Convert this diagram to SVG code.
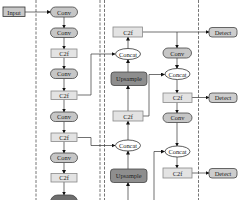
<svg xmlns="http://www.w3.org/2000/svg" width="240" height="200" viewBox="0 0 240 200">
<style>
text{font-family:"Liberation Serif","Times New Roman",serif;font-size:6.4px;fill:#222;text-anchor:middle;dominant-baseline:central}
.conv{fill:#c6c6c6;stroke:#444;stroke-width:0.8}
.c2f{fill:#e3e3e3;stroke:#888;stroke-width:0.8}
.inp{fill:#c8c8c8;stroke:#333;stroke-width:0.8}
.up{fill:#8e8e8e;stroke:#444;stroke-width:0.8}
.det{fill:#cdcdcd;stroke:#444;stroke-width:0.8}
.cat{fill:#fff;stroke:#333;stroke-width:0.8}
.sep{stroke:#777;stroke-width:1;stroke-dasharray:3 1.5;fill:none}
.ar{stroke:#333;stroke-width:0.7;fill:none;marker-end:url(#ah)}
</style>
<defs>
<marker id="ah" markerUnits="userSpaceOnUse" markerWidth="4" markerHeight="4" refX="3.5" refY="2" orient="auto">
<path d="M0,0 L4,2 L0,4 z" fill="#111"/>
</marker>
</defs>
<g id="separators">
<line class="sep" x1="36" y1="0" x2="36" y2="200"/>
<line class="sep" x1="100" y1="0" x2="100" y2="200"/>
<line class="sep" x1="104.5" y1="0" x2="104.5" y2="200"/>
<line class="sep" x1="198.5" y1="0" x2="198.5" y2="200"/>
</g>
<g id="connectors">
<line class="ar" x1="25" y1="12" x2="50.5" y2="12"/>
<line class="ar" x1="64" y1="17" x2="64" y2="28"/>
<line class="ar" x1="64" y1="37" x2="64" y2="49"/>
<line class="ar" x1="64" y1="57.5" x2="64" y2="69"/>
<line class="ar" x1="64" y1="78.5" x2="64" y2="91"/>
<line class="ar" x1="64" y1="99.5" x2="64" y2="112"/>
<line class="ar" x1="64" y1="121.5" x2="64" y2="133"/>
<line class="ar" x1="64" y1="141.5" x2="64" y2="153"/>
<line class="ar" x1="64" y1="162.5" x2="64" y2="173.5"/>
<line class="ar" x1="64" y1="182" x2="64" y2="195"/>
<path class="ar" d="M77.5,95 H91 V54 H115"/>
<path class="ar" d="M77.5,137.5 H91 V145.5 H115"/>
<line class="ar" x1="128" y1="200" x2="128" y2="182.5"/>
<line class="ar" x1="128" y1="169" x2="128" y2="151"/>
<line class="ar" x1="128" y1="140" x2="128" y2="121"/>
<line class="ar" x1="128" y1="111" x2="128" y2="85.5"/>
<line class="ar" x1="128" y1="72" x2="128" y2="59.5"/>
<line class="ar" x1="128" y1="48.5" x2="128" y2="37"/>
<line class="ar" x1="142.5" y1="32" x2="209" y2="32"/>
<line class="ar" x1="177" y1="32" x2="177" y2="48"/>
<line class="ar" x1="177" y1="58" x2="177" y2="68.5"/>
<line class="ar" x1="177" y1="79.5" x2="177" y2="93"/>
<line class="ar" x1="192" y1="97.5" x2="209" y2="97.5"/>
<line class="ar" x1="177" y1="102" x2="177" y2="113"/>
<line class="ar" x1="177" y1="122" x2="177" y2="146"/>
<line class="ar" x1="177" y1="157" x2="177" y2="168"/>
<line class="ar" x1="192" y1="173" x2="209" y2="173"/>
<path class="ar" d="M143,116 H149 V74.5 H164.5"/>
<path class="ar" d="M154,200 V151.5 H164.5"/>
</g>
<g id="input"><rect class="inp" x="3" y="7" width="22" height="9.5"/><text x="14" y="12">Input</text></g>
<g id="b1"><rect class="conv" x="50.5" y="7" width="27" height="10" rx="5"/><text x="64" y="12">Conv</text></g>
<g id="b2"><rect class="conv" x="50.5" y="28" width="27" height="9.5" rx="4.75"/><text x="64" y="32.75">Conv</text></g>
<g id="b3"><rect class="c2f" x="51" y="49" width="26" height="8.5"/><text x="64" y="53.25">C2f</text></g>
<g id="b4"><rect class="conv" x="50.5" y="69" width="27" height="9.5" rx="4.75"/><text x="64" y="73.75">Conv</text></g>
<g id="b5"><rect class="c2f" x="51" y="91" width="26" height="8.5"/><text x="64" y="95.25">C2f</text></g>
<g id="b6"><rect class="conv" x="50.5" y="112" width="27" height="9.5" rx="4.75"/><text x="64" y="116.75">Conv</text></g>
<g id="b7"><rect class="c2f" x="51" y="133" width="26" height="8.5"/><text x="64" y="137.25">C2f</text></g>
<g id="b8"><rect class="conv" x="50.5" y="153" width="27" height="9.5" rx="4.75"/><text x="64" y="157.75">Conv</text></g>
<g id="b9"><rect class="c2f" x="51" y="173.5" width="26" height="8.5"/><text x="64" y="177.75">C2f</text></g>
<g id="b10"><rect fill="#6e6e6e" stroke="#444" stroke-width="0.8" x="50.5" y="195" width="27" height="14" rx="7"/></g>
<g id="n1"><rect class="c2f" x="113" y="27" width="29.5" height="10"/><text x="128" y="32">C2f</text></g>
<g id="n2"><ellipse class="cat" cx="128" cy="54" rx="12.5" ry="5.5"/><text x="128" y="54">Concat</text></g>
<g id="n3"><rect class="up" x="111" y="72" width="36" height="13.5" rx="3"/><text x="129" y="78.75">Upsample</text></g>
<g id="n4"><rect class="c2f" x="113" y="111" width="30" height="10"/><text x="128" y="116">C2f</text></g>
<g id="n5"><ellipse class="cat" cx="128" cy="145.5" rx="12.5" ry="5.5"/><text x="128" y="145.5">Concat</text></g>
<g id="n6"><rect class="up" x="110.5" y="169" width="36.5" height="13.5" rx="3"/><text x="128.75" y="175.75">Upsample</text></g>
<g id="h1"><rect class="det" x="209" y="27.5" width="28" height="9.5" rx="3"/><text x="223" y="32.25">Detect</text></g>
<g id="h2"><rect class="conv" x="163" y="48" width="28.5" height="10" rx="5"/><text x="177.25" y="53">Conv</text></g>
<g id="h3"><ellipse class="cat" cx="177.5" cy="74" rx="12.5" ry="5.5"/><text x="177.5" y="74">Concat</text></g>
<g id="h4"><rect class="c2f" x="163" y="93" width="29" height="9.5"/><text x="177.5" y="97.75">C2f</text></g>
<g id="h5"><rect class="det" x="209" y="93" width="28" height="9.5" rx="3"/><text x="223" y="97.75">Detect</text></g>
<g id="h6"><rect class="conv" x="163" y="113" width="29" height="9.5" rx="4.75"/><text x="177.5" y="117.75">Conv</text></g>
<g id="h7"><ellipse class="cat" cx="177.5" cy="151.5" rx="12.5" ry="5.5"/><text x="177.5" y="151.5">Concat</text></g>
<g id="h8"><rect class="c2f" x="163" y="168" width="29" height="10"/><text x="177.5" y="173">C2f</text></g>
<g id="h9"><rect class="det" x="209" y="168.5" width="28" height="9.5" rx="3"/><text x="223" y="173.25">Detect</text></g>
</svg>
